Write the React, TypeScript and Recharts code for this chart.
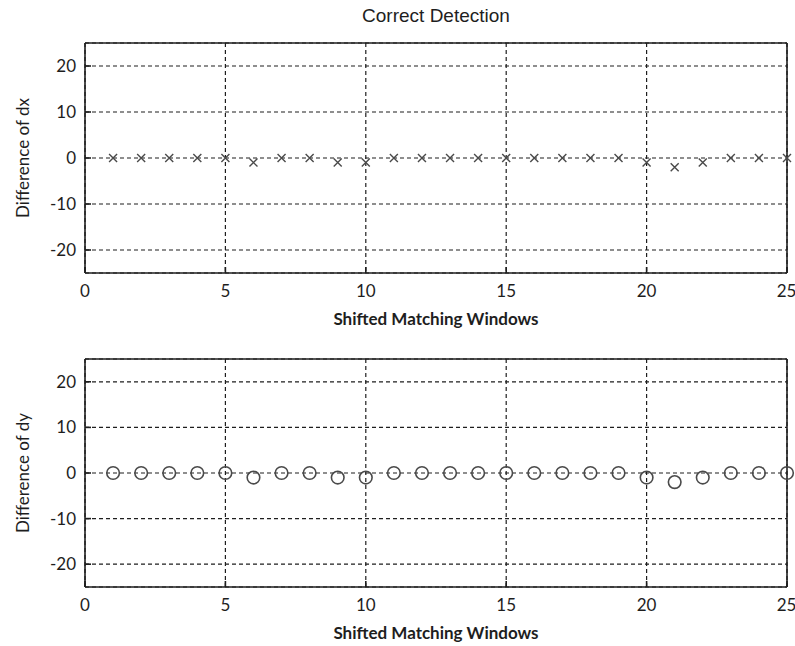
import React from 'react';
import { ScatterChart, Scatter, XAxis, YAxis, CartesianGrid } from 'recharts';

// shifted matching window index
const windows = [1, 2, 3, 4, 5, 6, 7, 8, 9, 10, 11, 12, 13, 14, 15, 16, 17, 18, 19, 20, 21, 22, 23, 24, 25];
// difference of dx / dy per window
const dxDiff = [0, 0, 0, 0, 0, -1, 0, 0, -1, -1, 0, 0, 0, 0, 0, 0, 0, 0, 0, -1, -2, -1, 0, 0, 0];
const dyDiff = [0, 0, 0, 0, 0, -1, 0, 0, -1, -1, 0, 0, 0, 0, 0, 0, 0, 0, 0, -1, -2, -1, 0, 0, 0];

const xTicks = [0, 5, 10, 15, 20, 25];
const yTicks = [-20, -10, 0, 10, 20];

const FONT = 'Lato, "Open Sans", sans-serif';
const INK = '#1e1e1e';
const MARK = '#4a4a4a';

const dxData = windows.map((w, i) => ({ x: w, y: dxDiff[i] }));
const dyData = windows.map((w, i) => ({ x: w, y: dyDiff[i] }));

const CrossMark = (props: any) => {
    const { cx, cy } = props;
    const r = 4;
    return (
        <path
            d={`M${cx - r},${cy - r}L${cx + r},${cy + r}M${cx - r},${cy + r}L${cx + r},${cy - r}`}
            stroke={MARK}
            strokeWidth={1.4}
            fill="none"
        />
    );
};

const CircleMark = (props: any) => {
    const { cx, cy } = props;
    return <circle cx={cx} cy={cy} r={6.3} stroke={MARK} strokeWidth={1.6} fill="none" />;
};

interface PanelProps {
    data: { x: number; y: number }[];
    yLabel: string;
    shape: any;
    top: number;
    plotHeight: number;
}

function Panel({ data, yLabel, shape, top, plotHeight }: PanelProps) {
    const height = 330;
    const marginTop = 42;
    const xAxisHeight = height - marginTop - 1 - plotHeight;
    const tickStyle = { fontSize: 17, fill: INK, fontFamily: FONT };

    return (
        <div style={{ position: 'absolute', left: 0, top }}>
            <ScatterChart width={795} height={height} margin={{ top: marginTop, right: 7, bottom: 0, left: 0 }}>
                <CartesianGrid stroke={INK} strokeDasharray="4 3" strokeWidth={1.2} />
                <XAxis
                    dataKey="x"
                    type="number"
                    domain={[0, 25]}
                    ticks={xTicks}
                    height={xAxisHeight}
                    tickSize={-6}
                    tickMargin={18}
                    tick={tickStyle}
                    stroke={INK}
                    strokeWidth={1.6}
                    label={{
                        content: ({ viewBox }: any) => (
                            <text
                                x={viewBox.x + viewBox.width / 2}
                                y={viewBox.y + 45}
                                textAnchor="middle"
                                dominantBaseline="central"
                                fontFamily={FONT}
                                fontWeight="bold"
                                fontSize={17}
                                fill={INK}
                            >
                                Shifted Matching Windows
                            </text>
                        ),
                    }}
                />
                <XAxis
                    xAxisId="top"
                    orientation="top"
                    type="number"
                    domain={[0, 25]}
                    ticks={xTicks}
                    height={1}
                    tickSize={-6}
                    tick={() => null}
                    stroke={INK}
                    strokeWidth={1.6}
                />
                <YAxis
                    dataKey="y"
                    type="number"
                    domain={[-25, 25]}
                    ticks={yTicks}
                    width={85}
                    tickSize={-6}
                    tickMargin={15}
                    tick={tickStyle}
                    stroke={INK}
                    strokeWidth={1.6}
                    label={{
                        content: ({ viewBox }: any) => {
                            const cx = viewBox.x + 22;
                            const cy = viewBox.y + viewBox.height / 2;
                            return (
                                <text
                                    x={cx}
                                    y={cy}
                                    transform={`rotate(-90, ${cx}, ${cy})`}
                                    textAnchor="middle"
                                    dominantBaseline="central"
                                    fontFamily={FONT}
                                    fontSize={17}
                                    fill={INK}
                                >
                                    {yLabel}
                                </text>
                            );
                        },
                    }}
                />
                <YAxis
                    yAxisId="right"
                    orientation="right"
                    type="number"
                    domain={[-25, 25]}
                    ticks={yTicks}
                    width={1}
                    tickSize={-6}
                    tick={() => null}
                    stroke={INK}
                    strokeWidth={1.6}
                />
                <Scatter data={data} shape={shape} isAnimationActive={false} />
            </ScatterChart>
        </div>
    );
}

export default function App() {
    return (
        <div style={{ position: 'absolute', left: 0, top: 0, width: 795, height: 646, background: '#fff', overflow: 'hidden' }}>
            <div
                style={{
                    position: 'absolute',
                    left: 85,
                    width: 702,
                    top: 4,
                    textAlign: 'center',
                    fontFamily: '"Liberation Sans", Arial, sans-serif',
                    fontSize: 19,
                    lineHeight: '24px',
                    color: INK,
                }}
            >
                Correct Detection
            </div>
            <Panel data={dxData} yLabel="Difference of dx" shape={CrossMark} top={0} plotHeight={230} />
            <Panel data={dyData} yLabel="Difference of dy" shape={CircleMark} top={316} plotHeight={228} />
        </div>
    );
}
